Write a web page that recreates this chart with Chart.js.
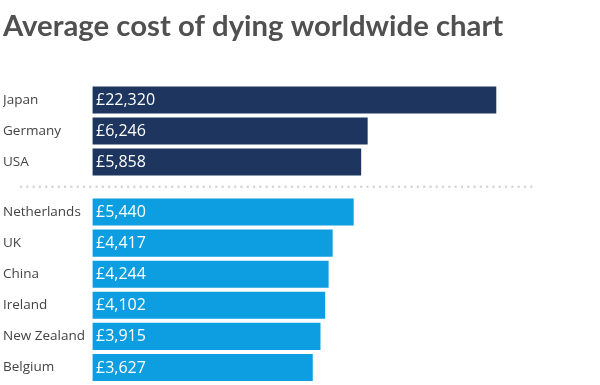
<!DOCTYPE html>
<html>
<head>
<meta charset="utf-8">
<script src="https://cdn.jsdelivr.net/npm/chart.js@4"></script>
<style>
  body { margin: 0; background: #fff; }
  #wrap { position: relative; width: 600px; height: 385px; overflow: hidden; }
  #topChart { position: absolute; left: 0; top: 0; }
  #bottomChart { position: absolute; left: 0; top: 180px; }
</style>
</head>
<body>
<div id="wrap">
  <canvas id="topChart" width="600" height="178"></canvas>
  <canvas id="bottomChart" width="600" height="205"></canvas>
</div>
<script>
// Data
const topCountries = ['Japan', 'Germany', 'USA'];
const topCosts = [22320, 6246, 5858];
const bottomCountries = ['Netherlands', 'UK', 'China', 'Ireland', 'New Zealand', 'Belgium'];
const bottomCosts = [5440, 4417, 4244, 4102, 3915, 3627];

const DARK = '#1d355f';
const LIGHT = '#0c9ee0';
const LABEL_FONT = '"Open Sans", "DejaVu Sans", sans-serif';

// x axis range shared by both charts (log so Japan does not dwarf the rest)
const X_MIN = 411;
const X_MAX = 51300;

const formatCost = (v) => '£' + v.toLocaleString('en-GB');

// Writes the cost inside each bar, near its start
const valueLabels = {
    id: 'valueLabels',
    afterDatasetsDraw(chart) {
        const { ctx } = chart;
        const meta = chart.getDatasetMeta(0);
        const values = chart.data.datasets[0].data;
        ctx.save();
        ctx.fillStyle = '#ffffff';
        ctx.font = '16px ' + LABEL_FONT;
        ctx.textBaseline = 'middle';
        ctx.textAlign = 'left';
        meta.data.forEach((bar, i) => {
            ctx.fillText(formatCost(values[i]), bar.base + 3.5, bar.y + 0.5);
        });
        ctx.restore();
    }
};

// Dotted separator above the second group
const dottedLine = {
    id: 'dottedLine',
    beforeDraw(chart) {
        const { ctx } = chart;
        ctx.save();
        ctx.strokeStyle = '#d4d4d4';
        ctx.lineWidth = 2.6;
        ctx.lineCap = 'round';
        ctx.setLineDash([0, 6.3]);
        ctx.beginPath();
        ctx.moveTo(21, 6.7);
        ctx.lineTo(535, 6.7);
        ctx.stroke();
        ctx.restore();
    }
};

const makeConfig = (labels, data, color, extra) => ({
    type: 'bar',
    data: {
        labels,
        datasets: [{
            data,
            backgroundColor: color,
            borderWidth: 0,
            barThickness: 26.5,
        }],
    },
    options: {
        indexAxis: 'y',
        responsive: false,
        animation: false,
        devicePixelRatio: 1,
        layout: extra.layout,
        plugins: {
            legend: { display: false },
            tooltip: { enabled: false },
            title: extra.title || { display: false },
        },
        scales: {
            x: {
                type: 'logarithmic',
                min: X_MIN,
                max: X_MAX,
                bounds: 'data',
                display: false,
            },
            y: {
                grid: { display: false },
                border: { display: false },
                ticks: {
                    crossAlign: 'far',
                    padding: 0,
                    color: '#444444',
                    font: { family: LABEL_FONT, size: 13.5 },
                },
                afterFit: (scale) => {
                    scale.width = 89.5;
                    scale.paddingTop = 0;
                    scale.paddingBottom = 0;
                },
            },
        },
    },
    plugins: extra.plugins,
});

new Chart(document.getElementById('topChart'), makeConfig(topCountries, topCosts, DARK, {
    layout: { padding: { left: 3, right: 20, top: 0, bottom: 0.5 } },
    title: {
        display: true,
        text: 'Average cost of dying worldwide chart',
        align: 'start',
        color: '#505050',
        font: { family: 'Lato, "Open Sans", sans-serif', size: 29.3, weight: 'bold', lineHeight: 1.2 },
        padding: { top: 8.5, bottom: 40.8 },
    },
    plugins: [valueLabels],
}));

new Chart(document.getElementById('bottomChart'), makeConfig(bottomCountries, bottomCosts, LIGHT, {
    layout: { padding: { left: 3, right: 20, top: 16.5, bottom: 2 } },
    plugins: [valueLabels, dottedLine],
}));
</script>
</body>
</html>
